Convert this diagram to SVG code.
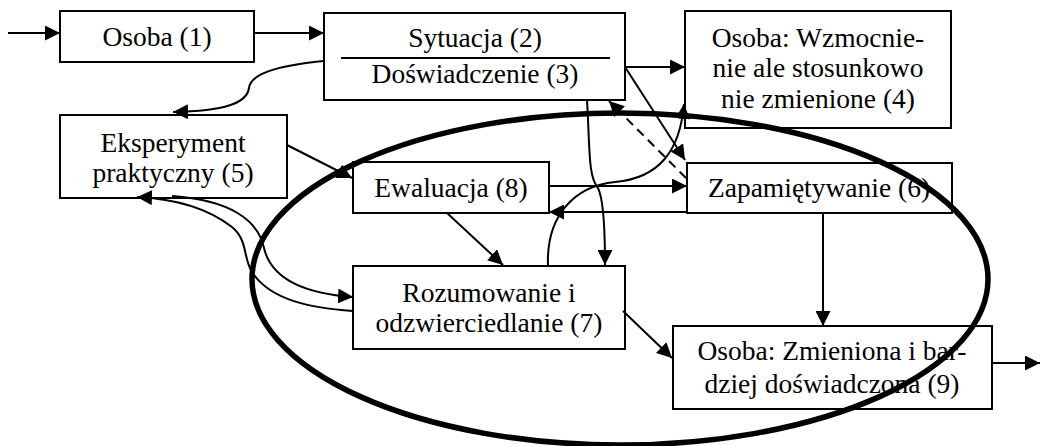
<svg xmlns="http://www.w3.org/2000/svg" width="1042" height="446" viewBox="0 0 1042 446">
<style>
.box{fill:#fff;stroke:#000;stroke-width:2}
.t{font-family:"Liberation Serif","Times New Roman",serif;font-size:27.5px;fill:#000;text-anchor:middle}
.c{fill:none;stroke:#000;stroke-width:2;marker-end:url(#ah)}
</style>
<defs>
<marker id="ah" markerUnits="userSpaceOnUse" markerWidth="16" markerHeight="15" refX="15" refY="7.5" orient="auto">
<path d="M0,0 L15,7.5 L0,15 z" fill="#000"/>
</marker>
</defs>
<g id="n1"><rect class="box" x="60" y="11" width="194" height="51"/><text class="t" x="157" y="46">Osoba (1)</text></g>
<g id="n2"><rect class="box" x="324" y="13" width="301" height="87"/><line x1="341" y1="58" x2="610" y2="58" stroke="#000" stroke-width="2"/><text class="t" x="475" y="47">Sytuacja (2)</text><text class="t" x="475" y="83">Doświadczenie (3)</text></g>
<g id="n4"><rect class="box" x="685" y="11" width="266" height="117"/><text class="t" x="818" y="47">Osoba: Wzmocnie-</text><text class="t" x="818" y="77">nie ale stosunkowo</text><text class="t" x="818" y="108">nie zmienione (4)</text></g>
<g id="n5"><rect class="box" x="60" y="115" width="227" height="83"/><text class="t" x="173" y="152">Eksperyment</text><text class="t" x="173" y="182">praktyczny (5)</text></g>
<g id="n8"><rect class="box" x="353" y="162" width="196" height="51"/><text class="t" x="451" y="197">Ewaluacja (8)</text></g>
<g id="n6"><rect class="box" x="687" y="163" width="265" height="50"/><text class="t" x="819" y="197">Zapamiętywanie (6)</text></g>
<g id="n7"><rect class="box" x="353" y="266" width="272" height="83"/><text class="t" x="489" y="302">Rozumowanie i</text><text class="t" x="489" y="332">odzwierciedlanie (7)</text></g>
<g id="n9"><rect class="box" x="673" y="326" width="319" height="83"/><text class="t" x="832" y="360">Osoba: Zmieniona i bar-</text><text class="t" x="832" y="393">dziej doświadczona (9)</text></g>
<g id="connectors">
<path class="c" d="M8,33 L60,33"/>
<path class="c" d="M254,33 L324,33"/>
<path class="c" d="M323,61 C275,66 251,74 249,88 C247,103 225,111 173,112"/>
<path class="c" d="M625,67 L685,67"/>
<path class="c" d="M625,67 L685,160"/>
<path class="c" d="M686,178 L609,101" stroke-dasharray="9,6"/>
<path class="c" d="M587,100 C590,150 588,176 598,188 C604,200 605,230 605,265"/>
<path class="c" d="M549,186 L687,186"/>
<path class="c" d="M687,212 L549,212"/>
<path class="c" d="M548,266 C546,215 575,186 615,182 C660,178 680,150 684,104"/>
<path class="c" d="M287,145 L352,178"/>
<path class="c" d="M447,213 L503,265"/>
<path class="c" d="M623,311 L672,358"/>
<path class="c" d="M823,213 L823,326"/>
<path class="c" d="M992,363 L1040,363"/>
<path class="c" d="M172,196 C230,200 258,220 264,248 C272,282 310,294 353,297"/>
<path class="c" d="M353,311 C310,308 270,300 252,272 C243,258 248,240 232,227 C210,210 180,199 137,197"/>
</g>
<g id="ellipse"><ellipse cx="620" cy="279" rx="368" ry="166" fill="none" stroke="#000" stroke-width="5.5"/></g>
</svg>
